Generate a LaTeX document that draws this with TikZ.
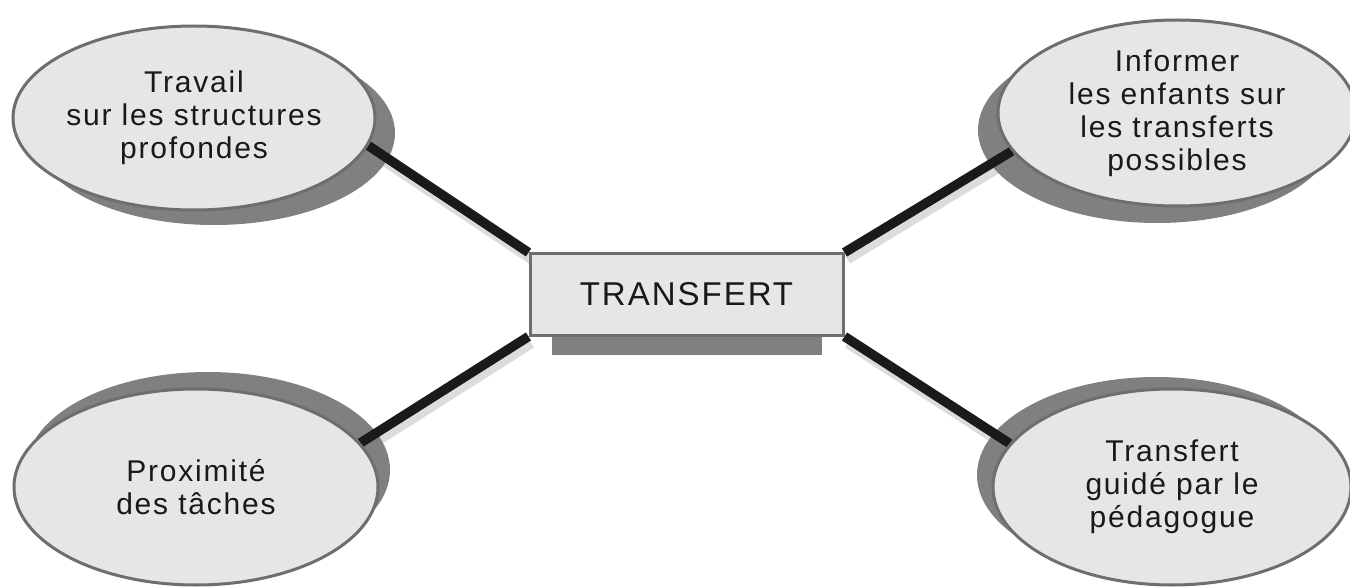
\documentclass[tikz,border=0pt]{standalone}
\usepackage{fontspec}
\setmainfont{Liberation Sans}
\newfontfamily\labfont{Liberation Sans}[LetterSpace=6]
\usetikzlibrary{shapes.geometric}
\definecolor{fillgray}{HTML}{E6E6E6}
\definecolor{edgegray}{HTML}{6E6E6E}
\definecolor{shadowgray}{HTML}{808080}
\definecolor{linegray}{HTML}{DCDCDC}
\definecolor{linedark}{HTML}{1A1A1A}
\pgfdeclarelayer{lineshade}
\pgfdeclarelayer{shade}
\pgfdeclarelayer{links}
\pgfsetlayers{lineshade,shade,links,main}
\tikzset{
  bubble/.style={ellipse, draw=edgegray, line width=3pt, fill=fillgray, inner sep=0pt,
    align=center, font=\labfont\fontsize{30}{33}\selectfont, text=black!90},
  bubbleshadow/.style={ellipse, fill=shadowgray, inner sep=0pt},
  hub/.style={rectangle, draw=edgegray, line width=3pt, fill=fillgray, inner sep=0pt,
    minimum width=313pt, minimum height=81pt, font=\labfont\fontsize{33}{40}\selectfont, text=black!90},
  link/.style={draw=linedark, line width=9.5pt},
  linkshadow/.style={draw=linegray, line width=9.5pt}
}
\begin{document}
\begin{tikzpicture}[x=1pt,y=-1pt]
\useasboundingbox (0,0) rectangle (1350,588);
% main nodes
\node[hub] (hub) at (686.5,294.5) {TRANSFERT};
\node[bubble, minimum width=362pt, minimum height=184pt] (tl) at (194,118)
  {Travail\\sur les structures\\profondes};
\node[bubble, minimum width=358pt, minimum height=186pt] (tr) at (1177,113)
  {Informer\\les enfants sur\\les transferts\\possibles};
\node[bubble, minimum width=364pt, minimum height=196pt] (bl) at (196,487)
  {Proximité\\des tâches};
\node[bubble, minimum width=358pt, minimum height=196pt] (br) at (1172,487)
  {Transfert\\guidé par le\\pédagogue};
% shadows
\begin{pgfonlayer}{shade}
\node[bubbleshadow, minimum width=362pt, minimum height=184pt] (tls) at (214,133) {};
\node[bubbleshadow, minimum width=358pt, minimum height=186pt] (trs) at (1157,130) {};
\node[bubbleshadow, minimum width=364pt, minimum height=196pt] (bls) at (208,470) {};
\node[bubbleshadow, minimum width=358pt, minimum height=196pt] (brs) at (1156,475) {};
\node[fill=shadowgray, inner sep=0pt, minimum width=270pt, minimum height=85pt] (hubs) at (687,312.5) {};
\end{pgfonlayer}
% connectors
\begin{pgfonlayer}{links}
\draw[link] (tl.-9) -- (hub.north west);
\draw[link] (tr.193) -- (hub.north east);
\draw[link] (bl.15) -- (hub.south west);
\draw[link] (br.165) -- (hub.south east);
\end{pgfonlayer}
\begin{pgfonlayer}{lineshade}
\draw[linkshadow] ([xshift=3pt,yshift=-7pt]tl.-9) -- ([xshift=3pt,yshift=-7pt]hub.north west);
\draw[linkshadow] ([xshift=3pt,yshift=-7pt]tr.193) -- ([xshift=3pt,yshift=-7pt]hub.north east);
\draw[linkshadow] ([xshift=3pt,yshift=-7pt]bl.15) -- ([xshift=3pt,yshift=-7pt]hub.south west);
\draw[linkshadow] ([xshift=3pt,yshift=-7pt]br.165) -- ([xshift=3pt,yshift=-7pt]hub.south east);
\end{pgfonlayer}
\end{tikzpicture}
\end{document}
